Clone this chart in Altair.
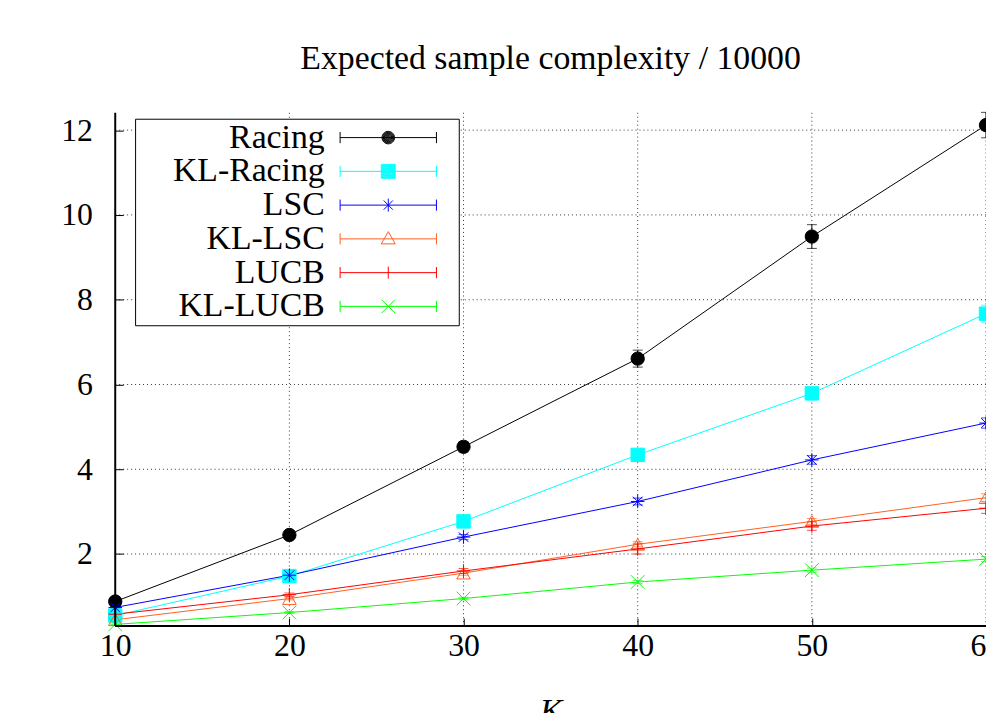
import altair as alt
import pandas as pd

# ---------------- data ----------------
K = [10, 20, 30, 40, 50, 60]
series = ["Racing", "KL-Racing", "LSC", "KL-LSC", "LUCB", "KL-LUCB"]

racing = [0.88, 2.45, 4.53, 6.61, 9.49, 12.12]
racing_err = [0.05, 0.08, 0.12, 0.20, 0.28, 0.30]
kl_racing = [0.55, 1.48, 2.77, 4.34, 5.79, 7.67]
kl_racing_err = [0.03, 0.05, 0.08, 0.10, 0.13, 0.20]
lsc = [0.74, 1.50, 2.40, 3.24, 4.22, 5.09]
lsc_err = [0.03, 0.04, 0.06, 0.08, 0.10, 0.12]
kl_lsc = [0.45, 0.95, 1.55, 2.23, 2.77, 3.33]
kl_lsc_err = [0.02, 0.03, 0.05, 0.06, 0.07, 0.09]
lucb = [0.58, 1.04, 1.60, 2.12, 2.66, 3.08]
lucb_err = [0.02, 0.04, 0.06, 0.12, 0.10, 0.12]
kl_lucb = [0.34, 0.62, 0.95, 1.34, 1.62, 1.88]
kl_lucb_err = [0.01, 0.02, 0.03, 0.04, 0.05, 0.06]

x_ticks = [10, 20, 30, 40, 50, 60]
y_ticks = [2, 4, 6, 8, 10, 12]
x_grid = [20, 30, 40, 50, 60]
x_domain = [10, 60]
y_domain = [0.3, 12.41]

title_text = "Expected sample complexity / 10000"
x_title = "K"

# ---------------- styles ----------------
colors = ["#000000", "#00ffff", "#0000ff", "#ff6020", "#ff0000", "#00ff00"]
fills = ["#000000", "#00ffff", "transparent", "transparent", "transparent", "transparent"]

ASTER = "M-1,0L1,0M0,-1L0,1M-0.71,-0.71L0.71,0.71M-0.71,0.71L0.71,-0.71"
PLUS = "M-1,0L1,0M0,-1L0,1"
CROSS = "M-1,-1L1,1M-1,1L1,-1"
point_shapes = ["circle", "square", ASTER, "triangle-up", PLUS, CROSS]
point_sizes = [180, 190, 300, 230, 260, 260]

FONT = "Liberation Serif"


def circle(r):
    return f"M{r:.2f},0A{r:.2f},{r:.2f} 0 1,1 {-r:.2f},0A{r:.2f},{r:.2f} 0 1,1 {r:.2f},0"


def square(h):
    return f"M{-h:.2f},{-h:.2f}L{h:.2f},{-h:.2f}L{h:.2f},{h:.2f}L{-h:.2f},{h:.2f}Z"


# legend sample: error-bar line with caps (units of 7 px), plus the marker
base = "M-6.93,0L6.93,0M-6.93,-0.8L-6.93,0.8M6.93,-0.8L6.93,0.8M9.57,0"
disk = "".join(circle(r / 10) for r in range(9, 0, -1))
block = "".join(square(h / 10) for h in range(10, 0, -1))
legend_shapes = [
    base + disk,
    base + block,
    base + "M0,-0.93L0,0.93M-0.66,-0.66L0.66,0.66M-0.66,0.66L0.66,-0.66",
    base + "M0,-1.05L1.0,0.72L-1.0,0.72Z",
    base + "M0,-0.86L0,0.86",
    base + "M-0.95,-0.95L0.95,0.95M-0.95,0.95L0.95,-0.95",
]

values = dict(zip(series, [racing, kl_racing, lsc, kl_lsc, lucb, kl_lucb]))
errors = dict(zip(series, [racing_err, kl_racing_err, lsc_err, kl_lsc_err, lucb_err, kl_lucb_err]))

rows = []
for s in series:
    for k, v, e in zip(K, values[s], errors[s]):
        rows.append({"K": k, "series": s, "value": v, "lo": v - e, "hi": v + e})
df = pd.DataFrame(rows)

xs = alt.Scale(domain=x_domain, nice=False, zero=False)
ys = alt.Scale(domain=y_domain, nice=False, zero=False)

x_axis = alt.Axis(
    values=x_ticks, format="d", offset=-8, ticks=True, tickSize=8, tickColor="black",
    tickWidth=1, domain=False, grid=False, labelFont=FONT, labelFontSize=32,
    labelColor="black", labelPadding=5, labelFlush=False, labelOverlap=False,
    title=x_title, titleFont=FONT, titleFontSize=34, titleFontStyle="italic",
    titleFontWeight="normal", titleColor="black", titlePadding=33,
)
y_axis = alt.Axis(
    values=y_ticks, format="d", offset=-8, ticks=True, tickSize=8, tickColor="black",
    tickWidth=1, domain=False, grid=False, labelFont=FONT, labelFontSize=32,
    labelColor="black", labelPadding=23, labelFlush=False, labelOverlap=False, title=None,
)

# every layer states the same axes, so the merged axes are fully explicit
hgrid = alt.Chart(pd.DataFrame({"v": y_ticks})).mark_rule(
    color="black", strokeWidth=1, strokeDash=[1, 3], opacity=0.8
).encode(y=alt.Y("v:Q", scale=ys, axis=y_axis))

vgrid = alt.Chart(pd.DataFrame({"K": x_grid})).mark_rule(
    color="black", strokeWidth=1, strokeDash=[1, 3], opacity=0.8
).encode(x=alt.X("K:Q", scale=xs, axis=x_axis))

left_border = alt.Chart(pd.DataFrame({"K": [x_domain[0]]})).mark_rule(
    color="black", strokeWidth=2
).encode(x=alt.X("K:Q", scale=xs, axis=x_axis))

bottom_border = alt.Chart(pd.DataFrame({"v": [y_domain[0]]})).mark_rule(
    color="black", strokeWidth=2
).encode(y=alt.Y("v:Q", scale=ys, axis=y_axis))

lines = alt.Chart(df).mark_line(strokeWidth=1).encode(
    x=alt.X("K:Q", scale=xs, axis=x_axis),
    y=alt.Y("value:Q", scale=ys, axis=y_axis),
    stroke=alt.Stroke("series:N", scale=alt.Scale(domain=series, range=colors), legend=None),
)

errbars = alt.Chart(df).mark_errorbar(ticks={"size": 10}, thickness=1).encode(
    x=alt.X("K:Q", scale=xs, axis=x_axis),
    y=alt.Y("lo:Q", scale=ys, axis=y_axis),
    y2="hi:Q",
    color=alt.Color("series:N", scale=alt.Scale(domain=series, range=colors), legend=None),
)

points = alt.Chart(df).mark_point(opacity=1, strokeWidth=1).encode(
    x=alt.X("K:Q", scale=xs, axis=x_axis),
    y=alt.Y("value:Q", scale=ys, axis=y_axis),
    stroke=alt.Stroke("series:N", scale=alt.Scale(domain=series, range=colors), legend=None),
    fill=alt.Fill("series:N", scale=alt.Scale(domain=series, range=fills), legend=None),
    shape=alt.Shape("series:N", scale=alt.Scale(domain=series, range=point_shapes), legend=None),
    size=alt.Size("series:N", scale=alt.Scale(domain=series, range=point_sizes), legend=None),
)

leg = alt.Legend(
    title=None, orient="none", legendX=20, legendY=6, direction="vertical",
    labelFont=FONT, labelFontSize=34, labelColor="black", labelAlign="right",
    labelOffset={"expr": "-81"}, labelLimit=400,
    symbolOffset=236, symbolSize=196, symbolStrokeWidth=1,
    symbolFillColor="transparent", symbolOpacity=1,
    padding=2, rowPadding=0, strokeColor="black", fillColor="white",
)

legend_layer = alt.Chart(df).mark_point(opacity=0, filled=False).encode(
    x=alt.X("K:Q", scale=xs, axis=x_axis),
    y=alt.Y("value:Q", scale=ys, axis=y_axis),
    stroke=alt.Stroke("series:N", scale=alt.Scale(domain=series, range=colors), legend=leg),
    shape=alt.Shape("series:N", scale=alt.Scale(domain=series, range=legend_shapes), legend=leg),
)

chart = alt.layer(
    hgrid, vgrid, lines, errbars, points, left_border, bottom_border, legend_layer
).resolve_scale(
    stroke="independent", shape="independent", fill="independent",
    color="independent", size="independent",
).properties(
    width=877,
    height=517,
    background="white",
    autosize=alt.AutoSizeParams(type="none"),
    padding={"left": 108, "top": 103, "right": 0, "bottom": 85},
    title=alt.TitleParams(
        text=title_text, font=FONT, fontSize=34, fontWeight="normal", color="black",
        anchor="middle", frame="group", offset=9, baseline="alphabetic",
    ),
).configure_view(stroke=None)

chart.save("out.html", embed_options={"renderer": "svg", "actions": False})
